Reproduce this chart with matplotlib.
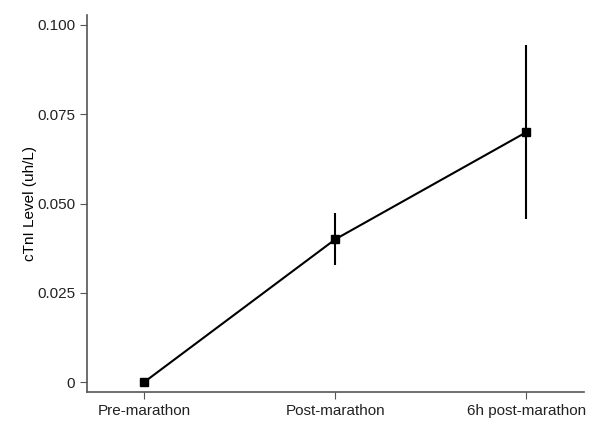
import matplotlib
matplotlib.use("Agg")
import matplotlib.pyplot as plt

categories = ["Pre-marathon", "Post-marathon", "6h post-marathon"]
values = [0.0, 0.040, 0.070]
errors = [0.0, 0.0073, 0.0243]
yticks = [0, 0.025, 0.050, 0.075, 0.100]
ytick_labels = ["0", "0.025", "0.050", "0.075", "0.100"]

plt.rcParams['font.family'] = ['Liberation Sans', 'DejaVu Sans']

fig = plt.figure(figsize=(6, 4.36), dpi=100)
ax = fig.add_axes([0.145, 0.1009, 0.828, 0.8647])
x = list(range(len(categories)))
ax.errorbar(x, values, yerr=errors, fmt='-s', color='black', ecolor='black',
            elinewidth=1.5, capsize=0, markersize=6, linewidth=1.5)
ax.set_xlim(-0.3, 2.3)
ax.set_ylim(-0.0028, 0.1028)
ax.set_xticks(x)
ax.set_xticklabels(categories, fontsize=11)
ax.set_yticks(yticks)
ax.set_yticklabels(ytick_labels, fontsize=11)
ax.set_ylabel("cTnI Level (uh/L)", fontsize=11)
ax.yaxis.set_label_coords(-0.100, 0.5)
for s in ['top', 'right']:
    ax.spines[s].set_visible(False)
for s in ['left', 'bottom']:
    ax.spines[s].set_color('#555555')
    ax.spines[s].set_linewidth(1.2)
ax.tick_params(axis='both', direction='out', length=5, color='#555555', colors='#222222')
ax.tick_params(axis='both', labelcolor='#222222')
fig.savefig("out.png", dpi=100)
